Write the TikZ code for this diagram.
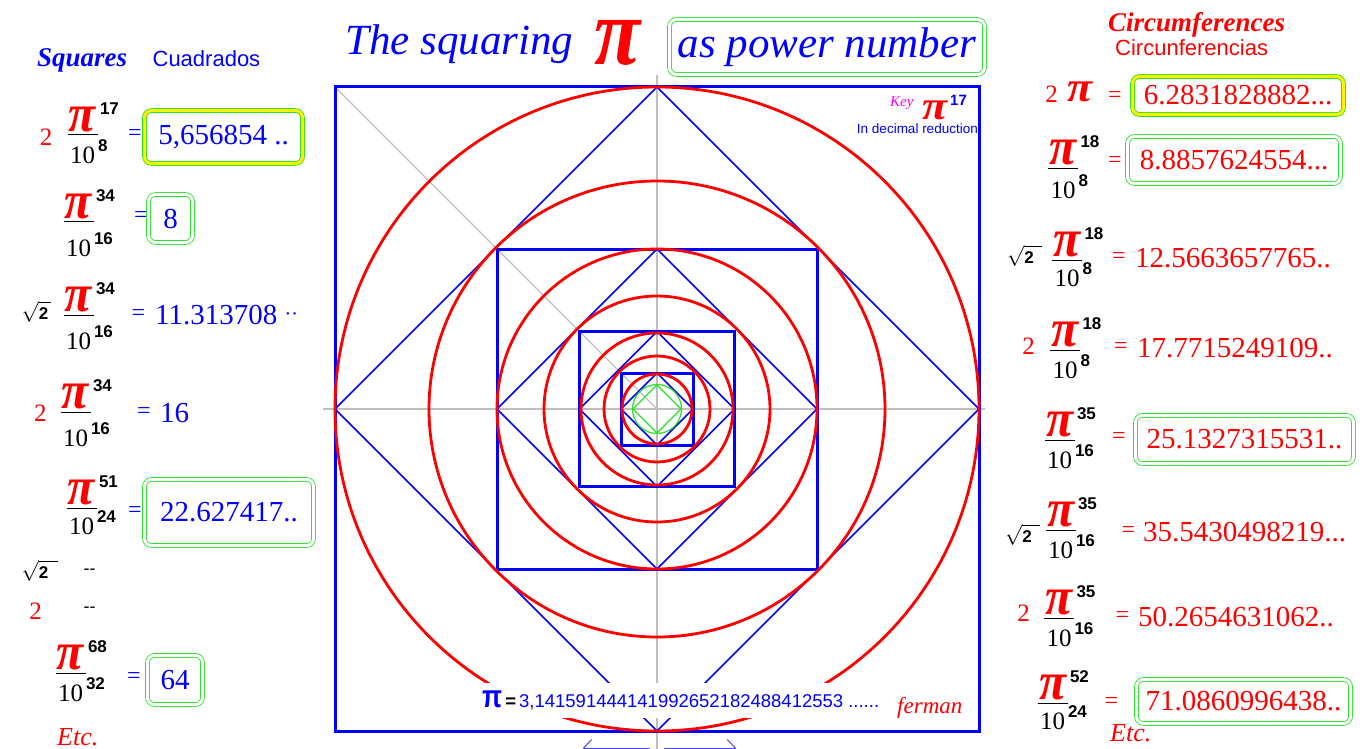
\documentclass[tikz,border=0pt]{standalone}
\usepackage{fontspec}
\setmainfont{Liberation Serif}
\setsansfont{Liberation Sans}
\usepackage{graphicx}
\usetikzlibrary{positioning, arrows.meta}

\definecolor{sqblue}{RGB}{0,0,255}
\definecolor{cred}{RGB}{255,0,0}
\definecolor{bgreen}{RGB}{40,225,40}
\definecolor{axgray}{RGB}{190,190,190}
\definecolor{kmag}{RGB}{255,0,255}
\definecolor{lblue}{RGB}{70,70,255}

\newcommand{\tenf}{\fontsize{25}{25}\selectfont\rmfamily\mdseries\upshape\color{black}}
\newcommand{\expf}{\fontsize{17}{17}\selectfont\sffamily\bfseries\upshape\color{black}}
\newcommand{\valf}{\fontsize{29}{29}\selectfont\rmfamily}
\newcommand{\eqf}{\fontsize{24}{24}\selectfont\rmfamily}
\newcommand{\ttlf}{\fontsize{43}{43}\selectfont\itshape}
\newcommand{\hdf}{\fontsize{27}{27}\selectfont\bfseries\itshape}
\newcommand{\subf}{\fontsize{22}{22}\selectfont\sffamily}
\newcommand{\pis}{\resizebox*{27pt}{25pt}{\color{cred}\bfseries\itshape π}}
\newcommand{\bigpi}[2]{\resizebox*{#1}{#2}{\color{cred}\bfseries\itshape π}}
\newcommand{\rt}[1][3pt]{\fontsize{21}{21}\selectfont$\sqrt{\hbox{\expf 2\kern#1}}$}
% pi^a / 10^b, baseline on the bar
\newdimen\pqw
\newcommand{\pq}[3][9pt]{%
  \setbox0=\hbox{\pis\rlap{\kern4pt\raisebox{17pt}[0pt][0pt]{\expf #2}}}%
  \setbox2=\hbox{\tenf 10\rlap{\kern3pt\raisebox{12pt}[0pt][0pt]{\expf #3}}}%
  \pqw=\wd0 \ifdim\wd2>\pqw \pqw=\wd2 \fi
  \advance\pqw by 3pt
  \lower\dimexpr\ht2+#1+0.5pt\relax\vbox{\offinterlineskip
    \hbox to\pqw{\hss\box0\hss}\kern2.5pt
    \hbox{\color{black}\vrule width\pqw height 1pt depth 0pt}\kern#1
    \hbox to\pqw{\hss\box2\hss}}}

\begin{document}
\begin{tikzpicture}[x=1pt, y=-1pt,
    txt/.style={inner sep=0pt},
    sqline/.style={draw=sqblue, line width=3pt},
    dialine/.style={draw=sqblue, line width=1.6pt},
    circline/.style={draw=cred, line width=2.8pt},
    gline/.style={draw=bgreen, line width=1.2pt},
    axisline/.style={draw=axgray, line width=1.3pt},
    valbox/.style={draw=bgreen, double=white, double distance=3pt, line width=0.8pt, rounded corners=7pt, inner sep=0pt},
    ybox/.style={valbox, double=yellow},
    eqsign/.style={txt, font=\eqf},
    dimarrow/.style={draw=lblue, line width=1pt, -{Straight Barb[length=8pt, width=17pt]}}
]
    \useasboundingbox (0,0) rectangle (1369,749);
    \coordinate (c) at (657,409);

    % axes
    \draw[axisline] (657,75) -- (657,749);
    \draw[axisline] (323,409) -- (985,409);
    \draw[axisline] (c) -- ++(-322,-322);

    % squares and diamonds
    \draw[dialine] (c) ++(0,-322) -- ++(322,322) -- ++(-322,322) -- ++(-322,-322) -- cycle;
    \draw[dialine] (c) ++(0,-160) -- ++(160,160) -- ++(-160,160) -- ++(-160,-160) -- cycle;
    \draw[dialine] (c) ++(0,-77.5) -- ++(77.5,77.5) -- ++(-77.5,77.5) -- ++(-77.5,-77.5) -- cycle;
    \draw[dialine] (c) ++(0,-36) -- ++(36,36) -- ++(-36,36) -- ++(-36,-36) -- cycle;
    \draw[sqline] (c) ++(-322,-322) rectangle ++(644,644);
    \draw[sqline] (c) ++(-160,-160) rectangle ++(320,320);
    \draw[sqline] (c) ++(-77.5,-77.5) rectangle ++(155,155);
    \draw[sqline] (c) ++(-36,-36) rectangle ++(72,72);

    % circles
    \draw[circline] (c) circle[radius=322pt];
    \draw[circline] (c) circle[radius=228pt];
    \draw[circline] (c) circle[radius=160pt];
    \draw[circline] (c) circle[radius=113pt];
    \draw[circline] (c) circle[radius=76pt];
    \draw[circline] (c) circle[radius=53pt];
    \draw[circline] (c) circle[radius=35pt];
    \draw[gline] (c) circle[radius=24.5pt];
    \draw[gline] (c) ++(0,-24) -- ++(24,24) -- ++(-24,24) -- ++(-24,-24) -- cycle;

    % bottom arrow (cut by the page)
    \coordinate (al0) at (650,748);
    \coordinate (al1) at (583,748);
    \coordinate (ar0) at (664,748);
    \coordinate (ar1) at (736,748);
    \draw[dimarrow] (al0) -- (al1);
    \draw[dimarrow] (ar0) -- (ar1);

    % title
    \node[txt, anchor=base west, font=\ttlf, text=sqblue] (ttl) at (345,55) {The squaring};
    \node[txt] (ttlpi) at (618,43) {\bigpi{46pt}{45pt}};
    \node[valbox, minimum width=315pt, minimum height=55pt, font=\ttlf, text=sqblue] (ttlbox) at (827,47) {as power number};

    % key
    \node[txt, anchor=base west, font=\fontsize{15}{15}\selectfont\itshape, text=kmag] (key) at (890,107) {Key};
    \node[txt] (keypi) at (934.5,110) {\bigpi{25pt}{19pt}};
    \node[txt, anchor=base west, font=\fontsize{15}{15}\selectfont\sffamily\bfseries, text=sqblue] (keyexp) at (950,106) {17};
    \node[txt, anchor=base east, font=\fontsize{13.5}{13.5}\selectfont\sffamily, text=sqblue] (keynote) at (978,134) {In decimal reduction};

    % squares column
    \node[txt, anchor=base west, font=\hdf, text=sqblue] (sqr) at (37,67) {Squares};
    \node[txt, font=\subf, text=sqblue, right=25pt of sqr.base east, anchor=base west] (cuad) {Cuadrados};

    \node[txt, font=\tenf\color{cred}] (l1c) at (46,137) {2};
    \node[txt, anchor=base] (l1f) at (82.5,135) {\pq[11.5pt]{17}{8}};
    \node[eqsign, text=sqblue] (l1e) at (135,135) {=};
    \node[ybox, minimum width=158pt, minimum height=53pt, font=\valf, text=sqblue] (l1v) at (223.5,137) {5,656854 ..};

    \node[txt, anchor=base] (l2f) at (78.5,222) {\pq[17.5pt]{34}{16}};
    \node[eqsign, text=sqblue] (l2e) at (141,217) {=};
    \node[valbox, minimum width=44pt, minimum height=48pt, font=\valf, text=sqblue] (l2v) at (170.5,218.5) {8};

    \node[txt] (l3c) at (36.5,312) {\rt};
    \node[txt, anchor=base] (l3f) at (78.5,315) {\pq[17.5pt]{34}{16}};
    \node[eqsign, text=sqblue] (l3e) at (138.5,315) {=};
    \node[txt, anchor=west, font=\valf, text=sqblue] (l3v) at (155,315) {11.313708 {\fontsize{20}{20}\selectfont\raisebox{4pt}{··}}};

    \node[txt, font=\tenf\color{cred}] (l4c) at (40.5,413) {2};
    \node[txt, anchor=base] (l4f) at (75.5,412) {\pq[17.5pt]{34}{16}};
    \node[eqsign, text=sqblue] (l4e) at (144,413) {=};
    \node[txt, anchor=west, font=\valf, text=sqblue] (l4v) at (160,413) {16};

    \node[txt, anchor=base] (l5f) at (81.5,508) {\pq[9.5pt]{51}{24}};
    \node[eqsign, text=sqblue] (l5e) at (135,512) {=};
    \node[valbox, minimum width=169pt, minimum height=66pt, font=\valf, text=sqblue] (l5v) at (229,512.5) {22.627417..};

    \node[txt] (l6c) at (40,571) {\rt[10pt]};
    \node[txt, font=\fontsize{18}{18}\selectfont\sffamily] (l6d) at (89.5,572) {-{}-};
    \node[txt, font=\tenf\color{cred}] (l7c) at (35.5,611) {2};
    \node[txt, font=\fontsize{18}{18}\selectfont\sffamily] (l7d) at (89.5,610) {-{}-};

    \node[txt, anchor=base] (l8f) at (70.5,673) {\pq[11.5pt]{68}{32}};
    \node[eqsign, text=sqblue] (l8e) at (134,678) {=};
    \node[valbox, minimum width=55pt, minimum height=49pt, font=\valf, text=sqblue] (l8v) at (175,680) {64};
    \node[txt, anchor=base west, font=\fontsize{26}{26}\selectfont\itshape, text=cred] (letc) at (57,745) {Etc.};

    % circumferences column
    \node[txt, anchor=base west, font=\hdf, text=cred] (circ) at (1108,32) {Circumferences};
    \node[txt, anchor=base west, font=\subf, text=cred] (circes) at (1115,56) {Circunferencias};

    \node[txt, font=\tenf\color{cred}] (r1c) at (1051.5,94) {2};
    \node[txt] (r1pi) at (1079.5,92) {\bigpi{25pt}{20pt}};
    \node[eqsign, text=cred] (r1e) at (1115,97) {=};
    \node[ybox, minimum width=211pt, minimum height=38pt, font=\valf, text=cred] (r1v) at (1238,95.5) {6.2831828882...};

    \node[txt, anchor=base] (r2f) at (1063,168) {\pq[13.5pt]{18}{8}};
    \node[eqsign, text=cred] (r2e) at (1115,162) {=};
    \node[valbox, minimum width=213pt, minimum height=47pt, font=\valf, text=cred] (r2v) at (1234,160) {8.8857624554...};

    \node[txt] (r3c) at (1024.5,256) {\rt[8pt]};
    \node[txt, anchor=base] (r3f) at (1067,260) {\pq[9.5pt]{18}{8}};
    \node[eqsign, text=cred] (r3e) at (1119,258) {=};
    \node[txt, anchor=west, font=\valf, text=cred] (r3v) at (1135,258) {12.5663657765..};

    \node[txt, font=\tenf\color{cred}] (r4c) at (1028.5,346) {2};
    \node[txt, anchor=base] (r4f) at (1065,350) {\pq[11.5pt]{18}{8}};
    \node[eqsign, text=cred] (r4e) at (1121,348) {=};
    \node[txt, anchor=west, font=\valf, text=cred] (r4v) at (1137,348) {17.7715249109..};

    \node[txt, anchor=base] (r5f) at (1059.5,440) {\pq[11.5pt]{35}{16}};
    \node[eqsign, text=cred] (r5e) at (1119,438) {=};
    \node[valbox, minimum width=218pt, minimum height=48pt, font=\valf, text=cred] (r5v) at (1244.5,439.5) {25.1327315531..};

    \node[txt] (r6c) at (1022.5,535) {\rt[8pt]};
    \node[txt, anchor=base] (r6f) at (1060.5,530) {\pq[11.5pt]{35}{16}};
    \node[eqsign, text=cred] (r6e) at (1128.5,532) {=};
    \node[txt, anchor=west, font=\valf, text=cred] (r6v) at (1143,532) {35.5430498219...};

    \node[txt, font=\tenf\color{cred}] (r7c) at (1023.5,613) {2};
    \node[txt, anchor=base] (r7f) at (1059,618) {\pq[11.5pt]{35}{16}};
    \node[eqsign, text=cred] (r7e) at (1122.5,617) {=};
    \node[txt, anchor=west, font=\valf, text=cred] (r7v) at (1138,617) {50.2654631062..};

    \node[txt, anchor=base] (r8f) at (1052.5,703) {\pq[9.5pt]{52}{24}};
    \node[eqsign, text=cred] (r8e) at (1111.5,703) {=};
    \node[valbox, minimum width=214pt, minimum height=44pt, font=\valf, text=cred] (r8v) at (1243.5,701.5) {71.0860996438..};
    \node[txt, anchor=base west, font=\fontsize{26}{26}\selectfont\itshape, text=cred] (retc) at (1110,741) {Etc.};

    % pi value
    \node[fill=white, inner xsep=4pt, inner ysep=0pt, minimum height=35pt, anchor=west, font=\fontsize{18.5}{18.5}\selectfont\sffamily, text=sqblue] (pival) at (478,700.5) {\resizebox*{20pt}{17pt}{\bfseries π}\,{\color{black}\bfseries =}\,3,141591444141992652182488412553 ......};
    \node[txt, anchor=base west, font=\fontsize{23}{23}\selectfont\itshape, text=cred] (fer) at (897,713) {ferman};
\end{tikzpicture}
\end{document}
